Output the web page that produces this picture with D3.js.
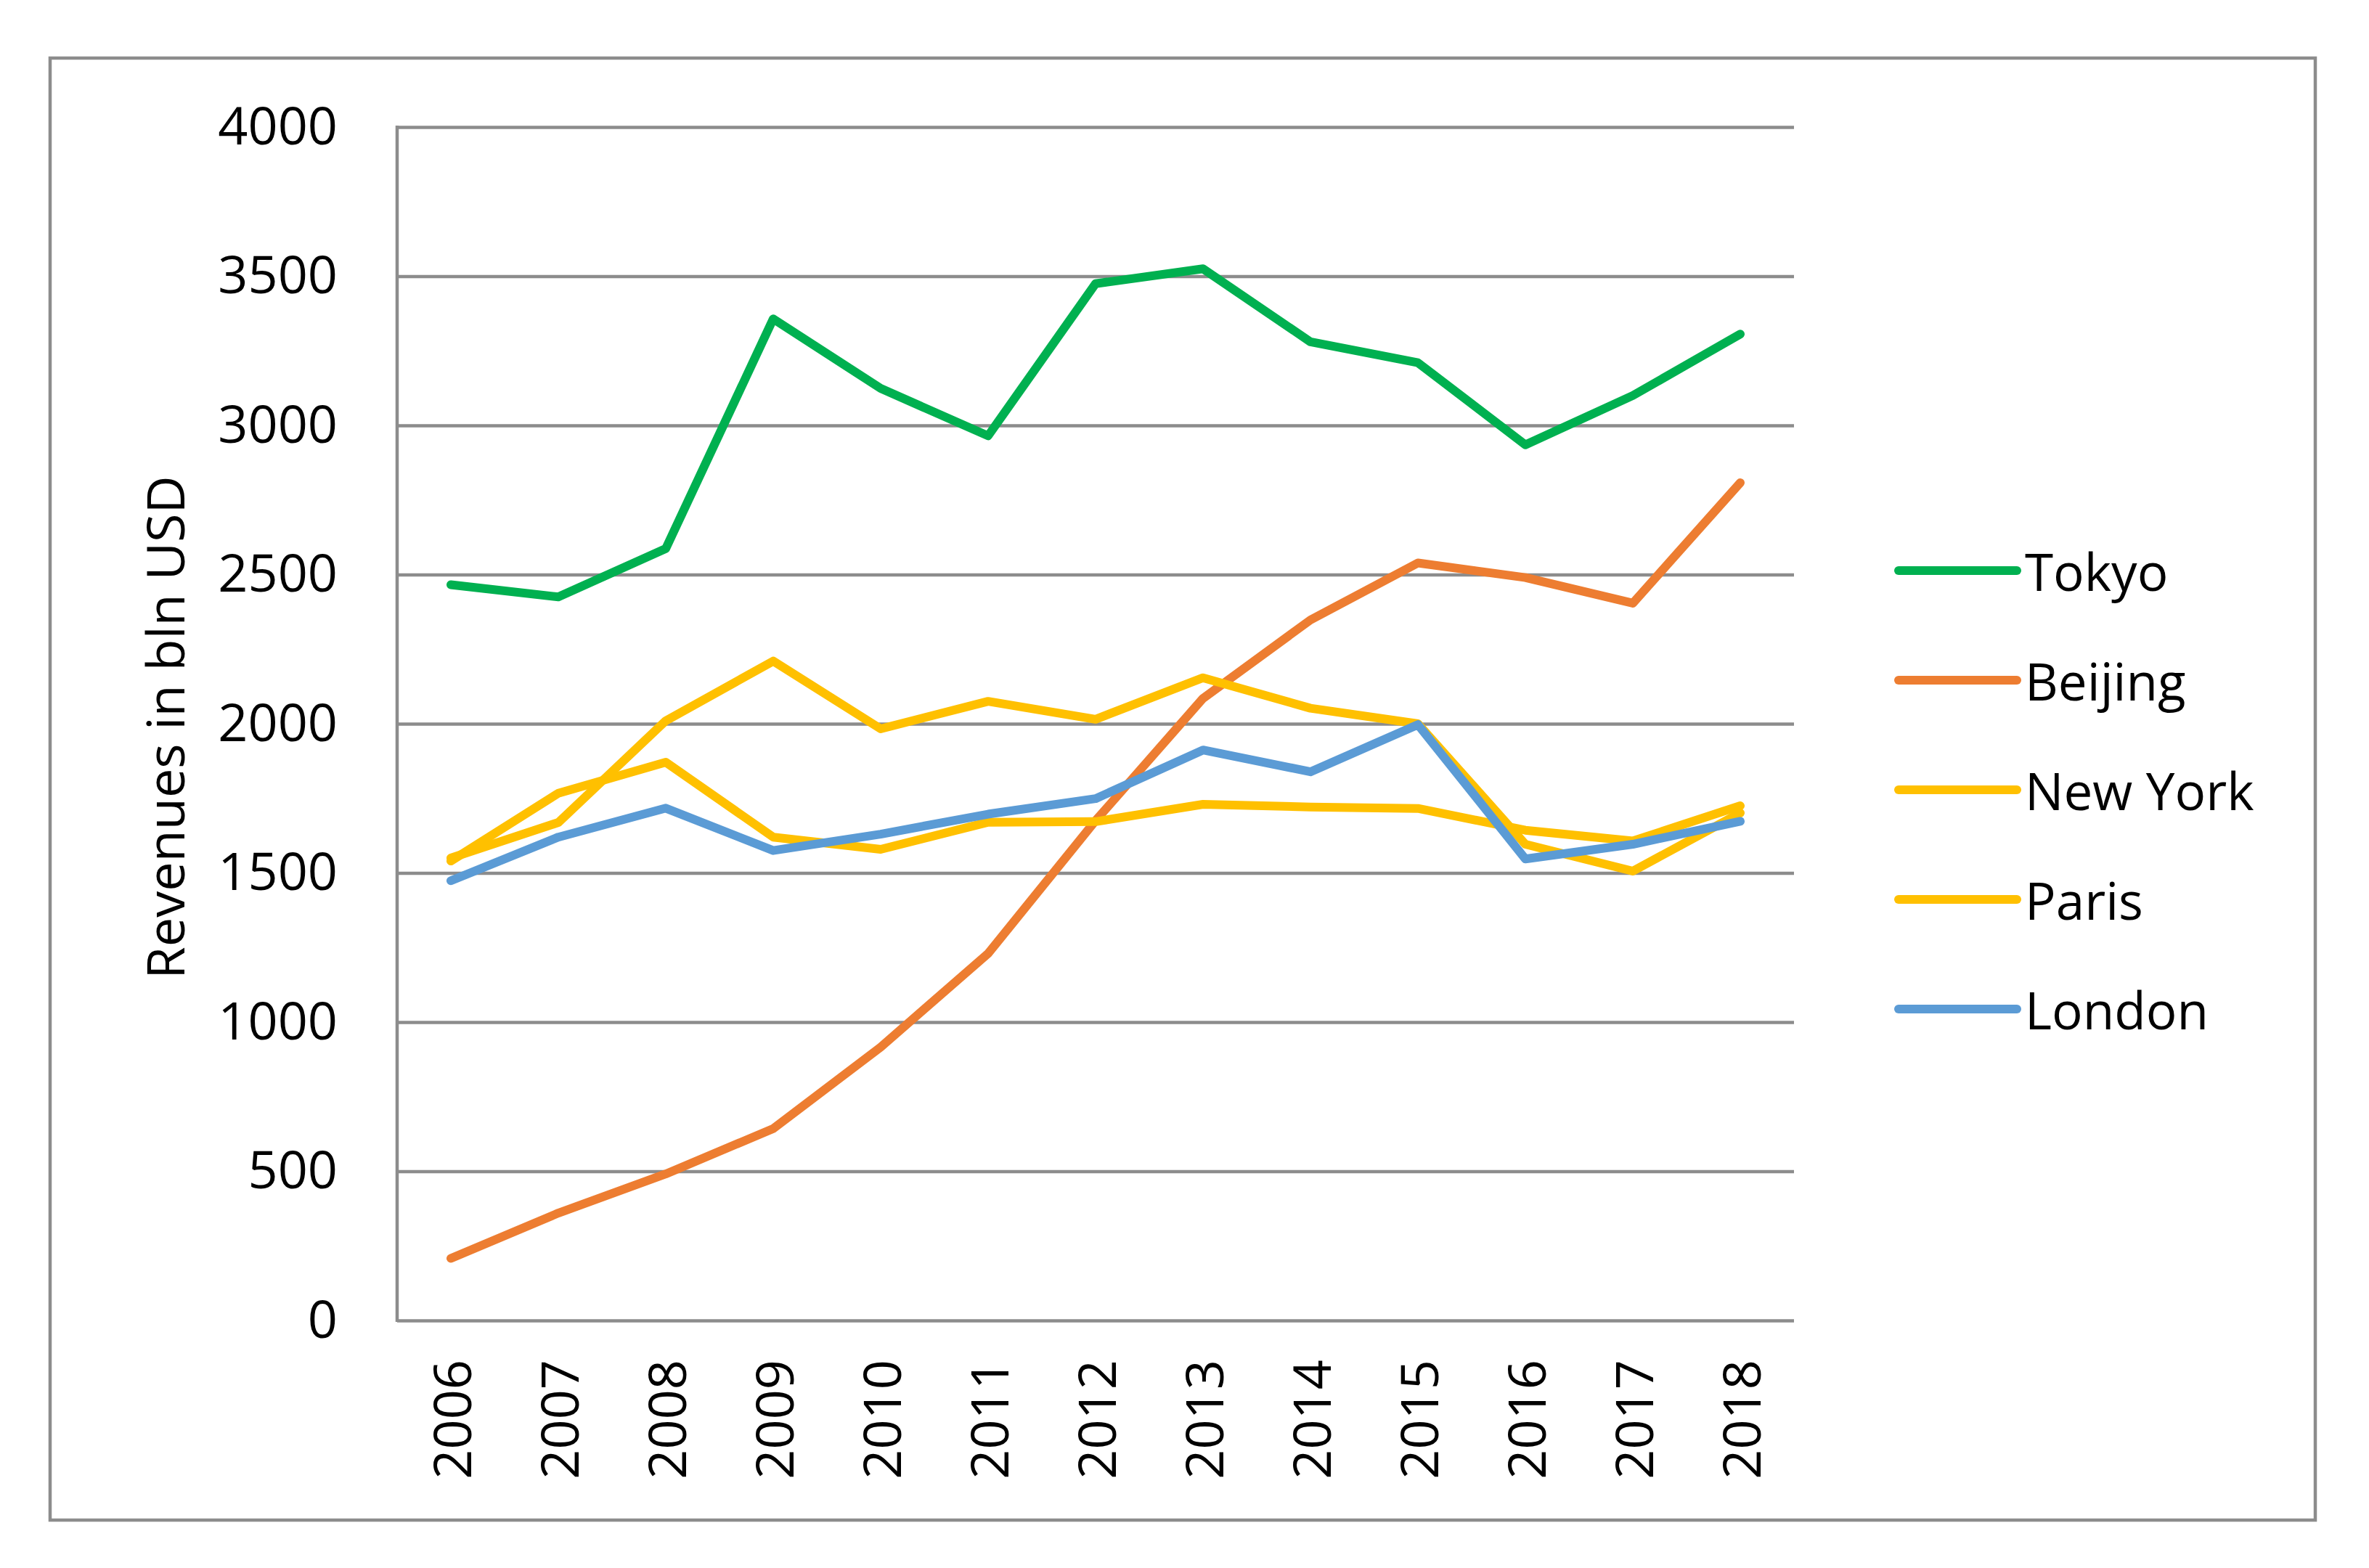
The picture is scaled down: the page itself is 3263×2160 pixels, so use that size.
<!DOCTYPE html>
<html>
<head>
<meta charset="utf-8">
<script src="https://cdn.jsdelivr.net/npm/d3@7"></script>
<style>
  body { margin: 0; background: #fff; }
  text { font-family: "Open Sans", "Noto Sans", sans-serif; fill: #000; }
</style>
</head>
<body>
<svg id="chart"></svg>
<script>
// Chart values
const years = ["2006", "2007", "2008", "2009", "2010", "2011", "2012",
               "2013", "2014", "2015", "2016", "2017", "2018"];
const cities = ["Tokyo", "Beijing", "New York", "Paris", "London"];
const tokyo   = [2466, 2425, 2587, 3357, 3124, 2965, 3475, 3525, 3280, 3210, 2935, 3100, 3306];
const beijing = [208, 360, 491, 643, 916, 1230, 1675, 2085, 2348, 2539, 2490, 2404, 2808];
const newYork = [1550, 1669, 2010, 2210, 1983, 2075, 2015, 2154, 2052, 2000, 1596, 1506, 1701];
const paris   = [1540, 1767, 1871, 1620, 1579, 1670, 1672, 1730, 1721, 1716, 1643, 1607, 1725];
const london  = [1474, 1620, 1717, 1575, 1630, 1697, 1749, 1912, 1839, 1997, 1547, 1596, 1673];
const yTicks = [0, 500, 1000, 1500, 2000, 2500, 3000, 3500, 4000];
const colors = ["#00B050", "#ED7D31", "#FFC000", "#FFC000", "#5B9BD5"];

const series = [tokyo, beijing, newYork, paris, london].map((values, i) => ({
  name: cities[i],
  color: colors[i],
  values: values,
}));

const width = 3263;
const height = 2160;
const plot = { left: 547, right: 2471, top: 175, bottom: 1819 };
const gray = "#8c8c8c";

const svg = d3.select("#chart").attr("width", width).attr("height", height);

// Outer chart border
svg.append("rect")
  .attr("x", 69).attr("y", 80)
  .attr("width", 3120).attr("height", 2014)
  .attr("fill", "none")
  .attr("stroke", gray)
  .attr("stroke-width", 4.5);

const x = d3.scalePoint().domain(years).range([plot.left, plot.right]).padding(0.5);
const y = d3.scaleLinear().domain([0, 4000]).range([plot.bottom, plot.top]);

// Horizontal gridlines and y tick labels
const yAxis = svg.append("g")
  .attr("transform", `translate(${plot.left},0)`)
  .call(d3.axisLeft(y).tickValues(yTicks).tickFormat(d3.format("d"))
    .tickSize(-(plot.right - plot.left)).tickPadding(82));
yAxis.select(".domain").remove();
yAxis.selectAll(".tick line").attr("stroke", gray).attr("stroke-width", 4.5);
yAxis.selectAll(".tick text")
  .style("font-size", "72px")
  .attr("fill", "#000");

// Left axis line
svg.append("line")
  .attr("x1", plot.left).attr("x2", plot.left)
  .attr("y1", plot.top - 2).attr("y2", plot.bottom + 2)
  .attr("stroke", gray).attr("stroke-width", 4.5);

// Rotated year labels
svg.append("g")
  .selectAll("text")
  .data(years)
  .enter()
  .append("text")
  .attr("transform", (d) => `translate(${x(d)},1873) rotate(-90)`)
  .attr("text-anchor", "end")
  .attr("dominant-baseline", "central")
  .style("font-size", "72px")
  .text((d) => d);

// Y axis title
svg.append("text")
  .attr("transform", "translate(226,1002) rotate(-90)")
  .attr("text-anchor", "middle")
  .attr("dominant-baseline", "central")
  .style("font-size", "72px")
  .text("Revenues in bln USD");

// Series lines
const line = d3.line()
  .x((d, i) => x(years[i]))
  .y((d) => y(d));

svg.append("g")
  .selectAll("path")
  .data(series)
  .enter()
  .append("path")
  .attr("d", (d) => line(d.values))
  .attr("fill", "none")
  .attr("stroke", (d) => d.color)
  .attr("stroke-width", 12)
  .attr("stroke-linejoin", "round")
  .attr("stroke-linecap", "round");

// Legend
const legend = svg.append("g")
  .selectAll("g")
  .data(series)
  .enter()
  .append("g")
  .attr("transform", (d, i) => `translate(2615,${786 + i * 151})`);

legend.append("line")
  .attr("x1", 0).attr("x2", 163)
  .attr("stroke", (d) => d.color)
  .attr("stroke-width", 12)
  .attr("stroke-linecap", "round");

legend.append("text")
  .attr("x", 174)
  .attr("dominant-baseline", "central")
  .style("font-size", "71px")
  .text((d) => d.name);
</script>
</body>
</html>
